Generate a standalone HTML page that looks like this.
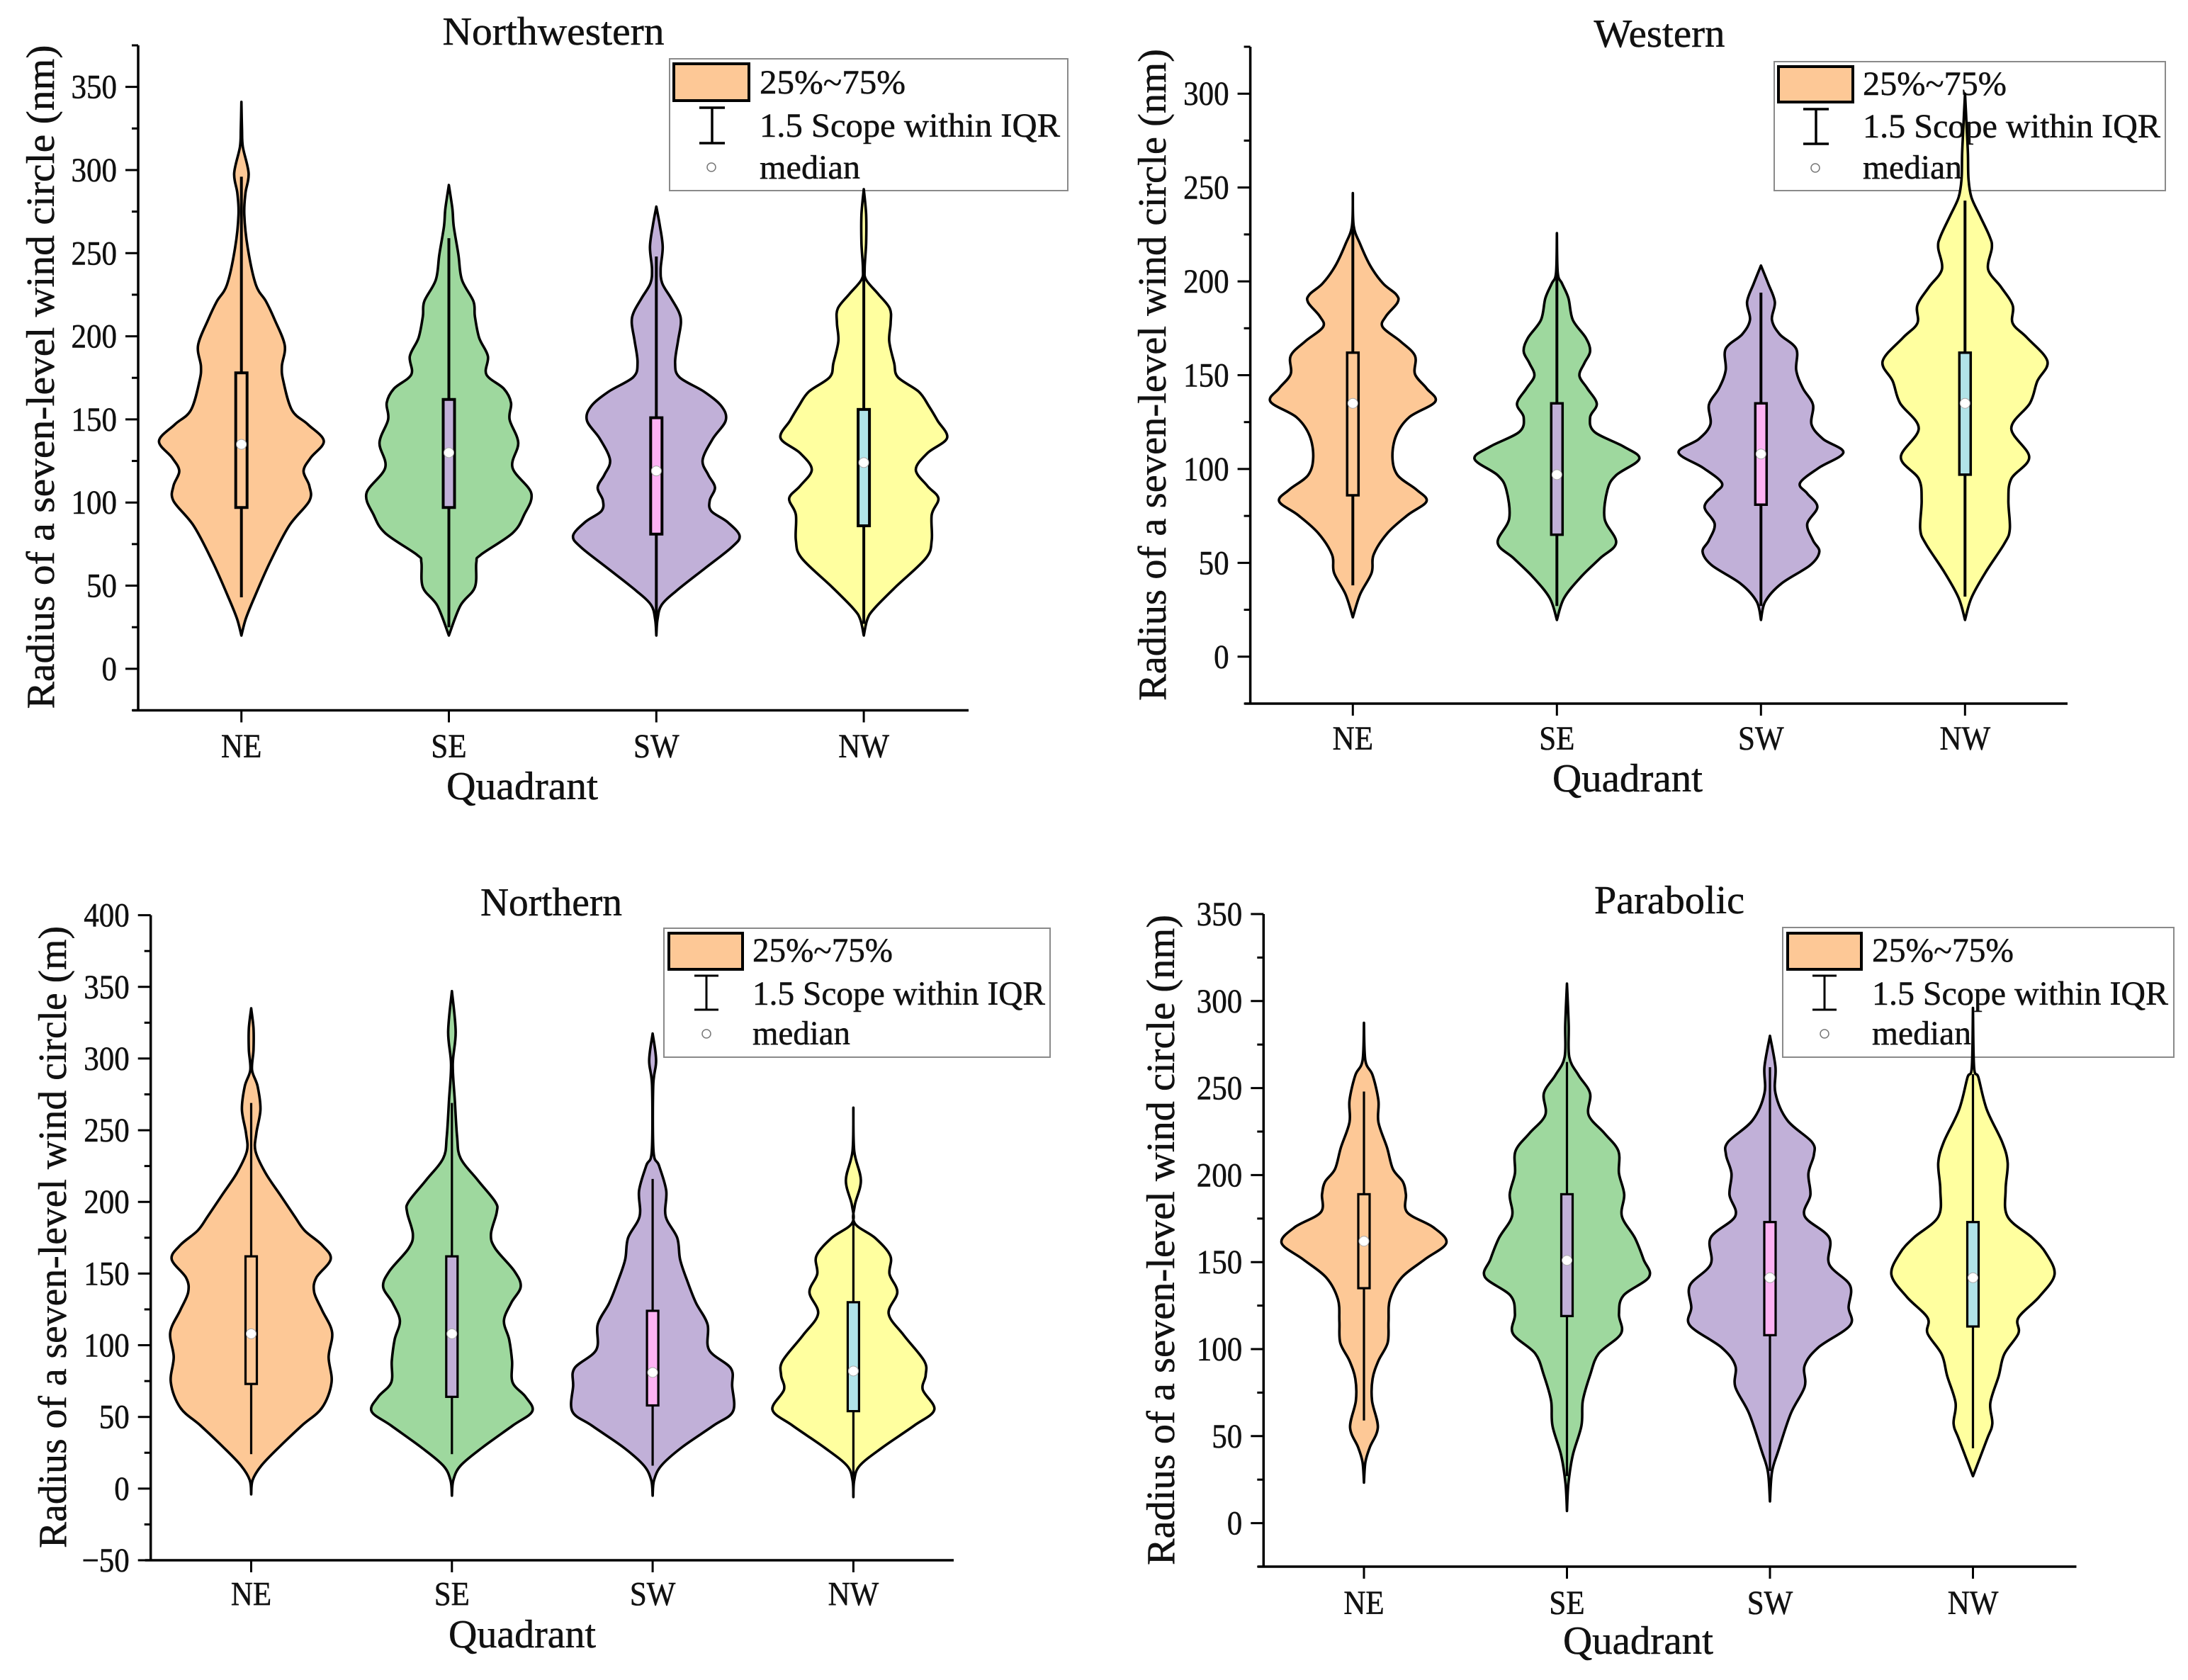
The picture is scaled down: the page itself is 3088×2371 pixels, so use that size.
<!DOCTYPE html>
<html lang="en">
<head>
<meta charset="utf-8">
<title>Radius of a seven-level wind circle by quadrant</title>
<style>
html,body{margin:0;padding:0;background:#fff;}
svg{display:block;font-family:"Liberation Serif",serif;fill:#111;}
text{stroke:#111;stroke-width:.5px;}
</style>
</head>
<body>
<svg id="chart" xmlns="http://www.w3.org/2000/svg" width="3088" height="2371" viewBox="0 0 3088 2371">
<rect x="0" y="0" width="3088" height="2371" fill="#fff"/>

<g id="panel-nw">
  <text x="781" y="63" font-size="56" text-anchor="middle" textLength="313" lengthAdjust="spacingAndGlyphs">Northwestern</text>
  <text transform="translate(76,532) rotate(-90)" font-size="56" text-anchor="middle" textLength="937" lengthAdjust="spacingAndGlyphs">Radius of a seven-level wind circle (nm)</text>
  <text x="737" y="1128" font-size="56" text-anchor="middle" textLength="214" lengthAdjust="spacingAndGlyphs">Quadrant</text>
  <g>
    <rect x="945" y="83" width="562" height="186" fill="#fff" stroke="#8a8a8a" stroke-width="2"/>
    <rect x="951" y="90" width="106" height="52" fill="#FDC896" stroke="#000" stroke-width="4"/>
    <path d="M987 152H1023M1005 152V202M987 202H1023" fill="none" stroke="#000" stroke-width="3.5"/>
    <circle cx="1004" cy="236" r="6" fill="#fff" stroke="#777" stroke-width="1.5"/>
    <text x="1072" y="132" font-size="48" textLength="206" lengthAdjust="spacingAndGlyphs">25%~75%</text>
    <text x="1072" y="193" font-size="48" textLength="424" lengthAdjust="spacingAndGlyphs">1.5 Scope within IQR</text>
    <text x="1072" y="252" font-size="48" textLength="142" lengthAdjust="spacingAndGlyphs">median</text>
  </g>
</g>

<g id="panel-w">
  <text x="2342" y="66" font-size="56" text-anchor="middle" textLength="185" lengthAdjust="spacingAndGlyphs">Western</text>
  <text transform="translate(1645,529) rotate(-90)" font-size="56" text-anchor="middle" textLength="920" lengthAdjust="spacingAndGlyphs">Radius of a seven-level wind circle (nm)</text>
  <text x="2297" y="1117" font-size="56" text-anchor="middle" textLength="212" lengthAdjust="spacingAndGlyphs">Quadrant</text>
  <g>
    <rect x="2504" y="87" width="552" height="182" fill="#fff" stroke="#8a8a8a" stroke-width="2"/>
    <rect x="2510" y="94" width="105" height="50" fill="#FDC896" stroke="#000" stroke-width="4"/>
    <path d="M2545 154H2581M2563 154V203M2545 203H2581" fill="none" stroke="#000" stroke-width="3.5"/>
    <circle cx="2562" cy="237" r="6" fill="#fff" stroke="#777" stroke-width="1.5"/>
    <text x="2629" y="134" font-size="48" textLength="203" lengthAdjust="spacingAndGlyphs">25%~75%</text>
    <text x="2629" y="194" font-size="48" textLength="420" lengthAdjust="spacingAndGlyphs">1.5 Scope within IQR</text>
    <text x="2629" y="252" font-size="48" textLength="140" lengthAdjust="spacingAndGlyphs">median</text>
  </g>
</g>

<g id="panel-n">
  <text x="778" y="1292" font-size="56" text-anchor="middle" textLength="200" lengthAdjust="spacingAndGlyphs">Northern</text>
  <text transform="translate(93,1746) rotate(-90)" font-size="56" text-anchor="middle" textLength="878" lengthAdjust="spacingAndGlyphs">Radius of a seven-level wind circle (m)</text>
  <text x="737" y="2325" font-size="56" text-anchor="middle" textLength="208" lengthAdjust="spacingAndGlyphs">Quadrant</text>
  <g>
    <rect x="937" y="1310" width="545" height="182" fill="#fff" stroke="#8a8a8a" stroke-width="2"/>
    <rect x="944" y="1317" width="104" height="51" fill="#FDC896" stroke="#000" stroke-width="4"/>
    <path d="M980 1377H1014M997 1377V1425M980 1425H1014" fill="none" stroke="#000" stroke-width="3"/>
    <circle cx="997" cy="1459" r="6" fill="#fff" stroke="#777" stroke-width="1.5"/>
    <text x="1062" y="1357" font-size="48" textLength="198" lengthAdjust="spacingAndGlyphs">25%~75%</text>
    <text x="1062" y="1418" font-size="48" textLength="413" lengthAdjust="spacingAndGlyphs">1.5 Scope within IQR</text>
    <text x="1062" y="1474" font-size="48" textLength="138" lengthAdjust="spacingAndGlyphs">median</text>
  </g>
</g>

<g id="panel-p">
  <text x="2356" y="1289" font-size="56" text-anchor="middle" textLength="212" lengthAdjust="spacingAndGlyphs">Parabolic</text>
  <text transform="translate(1657,1750) rotate(-90)" font-size="56" text-anchor="middle" textLength="918" lengthAdjust="spacingAndGlyphs">Radius of a seven-level wind circle (nm)</text>
  <text x="2312" y="2334" font-size="56" text-anchor="middle" textLength="212" lengthAdjust="spacingAndGlyphs">Quadrant</text>
  <g>
    <rect x="2516" y="1309" width="552" height="183" fill="#fff" stroke="#8a8a8a" stroke-width="2"/>
    <rect x="2523" y="1317" width="104" height="51" fill="#FDC896" stroke="#000" stroke-width="4"/>
    <path d="M2558 1377H2592M2575 1377V1425M2558 1425H2592" fill="none" stroke="#000" stroke-width="3"/>
    <circle cx="2575" cy="1459" r="6" fill="#fff" stroke="#777" stroke-width="1.5"/>
    <text x="2642" y="1357" font-size="48" textLength="200" lengthAdjust="spacingAndGlyphs">25%~75%</text>
    <text x="2642" y="1418" font-size="48" textLength="418" lengthAdjust="spacingAndGlyphs">1.5 Scope within IQR</text>
    <text x="2642" y="1474" font-size="48" textLength="140" lengthAdjust="spacingAndGlyphs">median</text>
  </g>
</g>
</svg>

<script>
// ---------- shared categories ----------
const quadrants = ['NE', 'SE', 'SW', 'NW'];

// ---------- Northwestern ----------
const nwTicks = [0, 50, 100, 150, 200, 250, 300, 350];
const nwNeValues = [341, 325, 314, 298, 286, 273, 253, 231, 221, 210, 194.5, 182, 173, 155.5, 147, 137, 127, 119, 110, 101, 86, 64.5, 43, 30, 20];
const nwNeDensity = [0, 2, 5, 25, 14, 10, 22, 50, 85, 115, 150, 140, 145, 175, 230, 285, 240, 215, 235, 235, 165, 100, 45, 15, 0];
const nwSeValues = [291, 277, 266, 249, 234, 221, 212, 199, 188, 177, 168.5, 160, 150, 136, 121, 105.6, 92.5, 81.6, 68.5, 64, 49, 38, 20];
const nwSeDensity = [0, 12, 17, 33, 45, 85, 90, 105, 135, 130, 190, 215, 210, 240, 220, 285, 260, 220, 110, 95, 90, 40, 0];
const nwSwValues = [278, 266.7, 253.7, 240.6, 232, 223.2, 214.6, 208, 197.1, 184, 175.4, 166.7, 158, 149.3, 138.3, 125.5, 116.6, 109, 101.4, 94.9, 88.4, 80, 73, 60, 47, 38.3, 29.6, 20];
const nwSwDensity = [0, 12, 22, 15, 20, 50, 78, 85, 75, 65, 80, 165, 225, 240, 195, 160, 180, 203, 185, 190, 245, 288, 260, 165, 70, 18, 4, 0];
const nwNwValues = [288.5, 273.3, 256, 240.6, 234, 225.4, 216.7, 208, 197.1, 184, 175.4, 166.7, 158, 149.3, 138.8, 129.7, 119.8, 110, 102.5, 92.7, 77.4, 66.6, 49.2, 36, 29.6, 20];
const nwNwDensity = [0, 8, 8, 3, 8, 50, 90, 93, 88, 105, 118, 190, 225, 255, 288, 220, 180, 220, 258, 235, 235, 215, 110, 35, 12, 0];
const nwQ1 = [97, 97, 81, 86];
const nwQ3 = [178, 162, 151, 156];
const nwMedian = [135, 130, 119, 124];
const nwWhiskerLow = [43, 25, 25, 27];
const nwWhiskerHigh = [296, 259, 248, 240];

// ---------- Western ----------
const wTicks = [0, 50, 100, 150, 200, 250, 300];
const wNeValues = [247, 229.6, 220, 208.4, 198.8, 193, 188.8, 181.5, 175.7, 168, 160.3, 150.6, 143, 135.9, 127.6, 117.9, 106.3, 96.7, 89, 82.8, 75.5, 65.9, 54.4, 44.7, 33.2, 21];
const wNeDensity = [0, 3, 25, 60, 105, 150, 155, 115, 103, 165, 215, 215, 255, 285, 195, 150, 137, 155, 220, 255, 190, 120, 72, 65, 25, 0];
const wSeValues = [225.7, 204.6, 198.8, 191, 179.5, 169.9, 162.8, 156.4, 149.7, 143, 134.8, 127.6, 119.8, 112, 105.4, 96.7, 89, 73.6, 60.8, 52.5, 42.8, 31.3, 19.6];
const wSeDensity = [0, 3, 18, 40, 55, 100, 115, 95, 78, 105, 138, 115, 130, 230, 285, 205, 175, 165, 205, 150, 85, 25, 0];
const wSwValues = [208.4, 198.8, 189, 179.5, 171.8, 164, 152.6, 143, 134.3, 123.7, 116, 108.8, 100.6, 92.5, 87, 79.8, 70.7, 62, 55.9, 48.7, 38.9, 29.4, 19.6];
const wSwDensity = [0, 25, 48, 38, 65, 122, 122, 145, 180, 175, 215, 285, 200, 135, 160, 195, 160, 180, 202, 170, 70, 15, 0];
const wNwValues = [300, 281.6, 268, 254.6, 244.8, 235.4, 223.9, 218, 206.4, 196.9, 187.2, 177.6, 169.9, 157.4, 146.8, 135.2, 121.7, 106.3, 94.8, 83.2, 67.9, 60, 44.7, 31.3, 19.6];
const wNwDensity = [0, 6, 10, 12, 22, 50, 85, 93, 80, 125, 165, 165, 215, 285, 250, 225, 160, 222, 160, 150, 155, 135, 70, 22, 0];
const wQ1 = [86, 65, 81, 97];
const wQ3 = [162, 135, 135, 162];
const wMedian = [135, 97, 108, 135];
const wWhiskerLow = [38, 27, 27, 32];
const wWhiskerHigh = [228, 205, 194, 243];

// ---------- Northern ----------
const nTicks = [-50, 0, 50, 100, 150, 200, 250, 300, 350, 400];
const nNeValues = [335, 321, 306, 292, 280.8, 264.5, 248, 235.4, 220, 205, 190, 180, 169.9, 160, 147, 137, 124.5, 109, 91.8, 74, 56.4, 43.9, 28.6, 16, 5.9, -4];
const nNeDensity = [0, 8, 8, 3, 22, 32, 18, 15, 50, 100, 150, 185, 245, 275, 225, 218, 245, 280, 268, 278, 245, 175, 95, 35, 5, 0];
const nSeValues = [347, 318.7, 296, 270.8, 245.6, 230.5, 215, 200, 192.7, 177.5, 167.5, 152, 140.9, 129.5, 117, 104, 89, 74, 64, 53.9, 43.9, 28.6, 16, 5.9, -4.9];
const nSeDensity = [0, 13, 3, 10, 18, 30, 90, 150, 155, 135, 150, 215, 238, 205, 180, 198, 208, 210, 255, 278, 210, 105, 30, 5, 0];
const nSwValues = [317.4, 298.5, 280.8, 235.4, 225.3, 207.7, 190, 174.9, 159.8, 144.7, 129.5, 114.5, 96.8, 84, 71.6, 53.9, 43.9, 28.6, 16, 5.9, -4.9];
const nSwDensity = [0, 12, 2, 3, 22, 47, 45, 85, 95, 120, 150, 190, 195, 270, 275, 278, 210, 100, 30, 5, 0];
const nNwValues = [265.7, 235.4, 215, 197.6, 185, 174.9, 162.3, 149.7, 137, 122, 106.8, 89, 79, 69, 55, 43.9, 28.6, 16, 5.9, -5.9];
const nNwDensity = [0, 3, 26, 5, 5, 75, 128, 125, 152, 122, 175, 245, 250, 240, 280, 210, 100, 22, 3, 0];
const nQ1 = [73, 64, 58, 54];
const nQ3 = [162, 162, 124, 130];
const nMedian = [108, 108, 81, 82];
const nWhiskerLow = [24, 24, 16, 8];
const nWhiskerHigh = [269, 269, 216, 185];

// ---------- Parabolic ----------
const pTicks = [0, 50, 100, 150, 200, 250, 300, 350];
const pNeValues = [287.5, 265.8, 257.4, 242.9, 230.4, 215.8, 203.5, 196, 188.9, 178.5, 170, 161, 151.5, 141, 128.6, 116, 103.7, 93.3, 83, 70.4, 55, 43.5, 35, 23.3];
const pNeDensity = [0, 5, 30, 50, 50, 80, 100, 135, 145, 150, 240, 285, 210, 130, 90, 85, 82, 50, 30, 28, 48, 20, 5, 0];
const pSeValues = [310, 286.6, 267.8, 257.4, 247, 234.5, 224, 213.8, 201, 188.9, 176.4, 163.9, 151.5, 141.5, 130.7, 120, 108.9, 97.5, 85, 70.4, 55.9, 39, 22.6, 7];
const pSeDensity = [0, 6, 8, 40, 80, 75, 130, 178, 180, 198, 190, 235, 265, 284, 195, 180, 187, 110, 80, 55, 50, 20, 5, 0];
const pSwValues = [280, 262, 247, 231.5, 219, 211.6, 200.9, 188.6, 176.4, 164, 148.8, 136.6, 124, 113.6, 101, 90.6, 78.4, 63, 41.6, 29.4, 12.5];
const pSwDensity = [0, 19, 19, 60, 145, 152, 133, 140, 120, 205, 205, 277, 272, 277, 168, 120, 120, 72, 29, 7, 0];
const pNwValues = [296, 262, 256, 237.6, 219, 207, 191.7, 176, 164, 155, 142.7, 130, 118, 109, 97, 84.5, 69, 57, 48, 27];
const pNwDensity = [0, 4, 19, 48, 101, 120, 113, 120, 205, 253, 282, 229, 157, 157, 108, 89, 60, 67, 48, 0];
const pQ1 = [135, 119, 108, 113];
const pQ3 = [189, 189, 173, 173];
const pMedian = [162, 151, 141, 141];
const pWhiskerLow = [59, 27, 30, 43];
const pWhiskerHigh = [248, 265, 262, 258];

// ---------- layout and styling ----------
const violinFills = ['#FDC896', '#9ED89E', '#C1B0D8', '#FFFF9F'];
const boxFills = ['#FDC896', '#C1B0D8', '#FDB2F3', '#B0E3E8'];
const NS = 'http://www.w3.org/2000/svg';

const panels = [
  {id: 'panel-nw', key: 'northwestern', ticks: nwTicks, minorStep: 25, domain: [-25, 375], pxY: [1002.5, 64],
   axisX: 195, axisRight: 1367, firstX: 340.7, stepX: 292.8, tickLabelY: 1068, lw: 4, boxLw: 4,
   values: [nwNeValues, nwSeValues, nwSwValues, nwNwValues], density: [nwNeDensity, nwSeDensity, nwSwDensity, nwNwDensity],
   q1: nwQ1, q3: nwQ3, median: nwMedian, low: nwWhiskerLow, high: nwWhiskerHigh},
  {id: 'panel-w', key: 'western', ticks: wTicks, minorStep: 25, domain: [-25, 325], pxY: [993, 66],
   axisX: 1764.6, axisRight: 2918, firstX: 1909.3, stepX: 288, tickLabelY: 1057, lw: 4, boxLw: 3.5,
   values: [wNeValues, wSeValues, wSwValues, wNwValues], density: [wNeDensity, wSeDensity, wSwDensity, wNwDensity],
   q1: wQ1, q3: wQ3, median: wMedian, low: wWhiskerLow, high: wWhiskerHigh},
  {id: 'panel-n', key: 'northern', ticks: nTicks, minorStep: 25, domain: [-50, 400], pxY: [2202, 1291.6],
   axisX: 212.7, axisRight: 1346, firstX: 354.5, stepX: 283.3, tickLabelY: 2264.5, lw: 3.2, boxLw: 3.2,
   values: [nNeValues, nSeValues, nSwValues, nNwValues], density: [nNeDensity, nSeDensity, nSwDensity, nNwDensity],
   q1: nQ1, q3: nQ3, median: nMedian, low: nWhiskerLow, high: nWhiskerHigh},
  {id: 'panel-p', key: 'parabolic', ticks: pTicks, minorStep: 25, domain: [-25, 350], pxY: [2211, 1290],
   axisX: 1783.3, axisRight: 2930.5, firstX: 1925, stepX: 286.5, tickLabelY: 2277, lw: 3.2, boxLw: 3.2,
   values: [pNeValues, pSeValues, pSwValues, pNwValues], density: [pNeDensity, pSeDensity, pSwDensity, pNwDensity],
   q1: pQ1, q3: pQ3, median: pMedian, low: pWhiskerLow, high: pWhiskerHigh}
];

const densityToPx = 0.408;

function create(tag, attrs, parent) {
  const el = document.createElementNS(NS, tag);
  Object.keys(attrs).forEach(function (k) { el.setAttribute(k, attrs[k]); });
  parent.appendChild(el);
  return el;
}

function splineThrough(pts, move) {
  let d = move ? 'M' + pts[0][0].toFixed(1) + ' ' + pts[0][1].toFixed(1) : '';
  for (let i = 0; i < pts.length - 1; i++) {
    const p0 = pts[Math.max(i - 1, 0)], p1 = pts[i], p2 = pts[i + 1], p3 = pts[Math.min(i + 2, pts.length - 1)];
    const c1x = p1[0] + (p2[0] - p0[0]) / 6, c1y = p1[1] + (p2[1] - p0[1]) / 6;
    const c2x = p2[0] - (p3[0] - p1[0]) / 6, c2y = p2[1] - (p3[1] - p1[1]) / 6;
    d += 'C' + c1x.toFixed(1) + ' ' + c1y.toFixed(1) + ' ' + c2x.toFixed(1) + ' ' + c2y.toFixed(1) + ' ' + p2[0].toFixed(1) + ' ' + p2[1].toFixed(1);
  }
  return d;
}

function drawPanel(cfg) {
  const root = document.getElementById(cfg.id);
  const yScale = function (v) {
    return cfg.pxY[0] + (v - cfg.domain[0]) * (cfg.pxY[1] - cfg.pxY[0]) / (cfg.domain[1] - cfg.domain[0]);
  };
  const xScale = function (i) { return cfg.firstX + i * cfg.stepX; };

  // violins, whiskers, boxes and medians
  quadrants.forEach(function (q, i) {
    const cx = xScale(i);
    const vals = cfg.values[i], dens = cfg.density[i];
    const right = vals.map(function (v, k) { return [cx + dens[k] * densityToPx, yScale(v)]; });
    const left = vals.map(function (v, k) { return [cx - dens[k] * densityToPx, yScale(v)]; }).reverse();

    const violin = create('path', {d: splineThrough(right, true) + splineThrough(left, false) + 'Z', fill: violinFills[i], stroke: '#000', 'stroke-width': 3.6, 'stroke-linejoin': 'round'}, root);
    
    

    const whisker = create('line', {x1: cx, x2: cx, y1: yScale(cfg.low[i]), y2: yScale(cfg.high[i]), stroke: '#000', 'stroke-width': cfg.lw}, root);
    
    

    const box = create('rect', {x: cx - 8, width: 16, y: yScale(cfg.q3[i]), height: yScale(cfg.q1[i]) - yScale(cfg.q3[i]), fill: boxFills[i], stroke: '#000', 'stroke-width': cfg.boxLw}, root);
    
    

    const dot = create('circle', {cx: cx, cy: yScale(cfg.median[i]), r: 7, fill: '#fff', stroke: '#aaa', 'stroke-width': 1}, root);
    
    
  });

  // y axis
  const yAxis = create('line', {x1: cfg.axisX, x2: cfg.axisX, y1: cfg.pxY[1], y2: cfg.pxY[0], stroke: '#000', 'stroke-width': 3.5}, root);
  
  

  for (let v = cfg.domain[0]; v <= cfg.domain[1]; v += cfg.minorStep) {
    const isMajor = cfg.ticks.indexOf(v) >= 0;
    const tick = create('line', {x1: cfg.axisX - (isMajor ? 18 : 9), x2: cfg.axisX, y1: yScale(v), y2: yScale(v), stroke: '#000', 'stroke-width': 3}, root);
    
    
  }
  cfg.ticks.forEach(function (v) {
    const label = create('text', {transform: 'translate(' + (cfg.axisX - 30) + ',' + (yScale(v) + 16) + ') scale(1,1.12)', 'font-size': 43, 'text-anchor': 'end'}, root);
    label.textContent = v < 0 ? '\u2212' + Math.abs(v) : String(v);
    
    
  });

  // x axis
  const xAxis = create('line', {x1: cfg.axisX - 8, x2: cfg.axisRight, y1: cfg.pxY[0], y2: cfg.pxY[0], stroke: '#000', 'stroke-width': 3.5}, root);
  
  

  quadrants.forEach(function (q, i) {
    const tick = create('line', {x1: xScale(i), x2: xScale(i), y1: cfg.pxY[0], y2: cfg.pxY[0] + 17, stroke: '#000', 'stroke-width': 3}, root);
    
    
    const label = create('text', {transform: 'translate(' + xScale(i) + ',' + (cfg.tickLabelY + 1) + ') scale(1,1.12)', 'font-size': 43, 'text-anchor': 'middle'}, root);
    label.textContent = q;
    
    
  });
}

panels.forEach(drawPanel);
</script>
</body>
</html>
